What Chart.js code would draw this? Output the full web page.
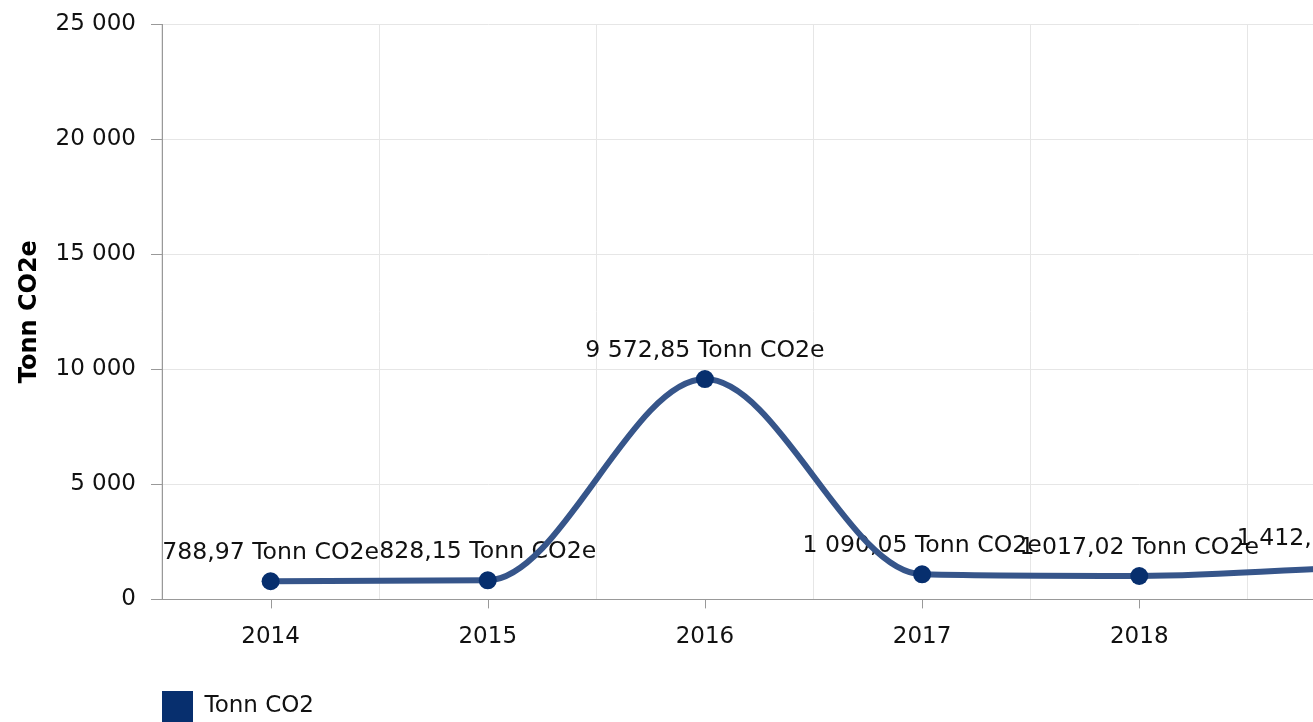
<!DOCTYPE html>
<html>
<head>
<meta charset="utf-8">
<script src="https://cdn.jsdelivr.net/npm/chart.js@4/dist/chart.umd.min.js"></script>
<style>
  html, body { margin: 0; padding: 0; overflow: hidden; background: #fff; }
  #wrap { width: 1474px; height: 732px; }
</style>
</head>
<body>
<div id="wrap"><canvas id="co2Chart"></canvas></div>
<script>
const years = ["2014", "2015", "2016", "2017", "2018", "2019"];
const tonnCO2 = [788.97, 828.15, 9572.85, 1090.05, 1017.02, 1412.0];
const yTicks = [0, 5000, 10000, 15000, 20000, 25000];

const FONT = "'DejaVu Sans', Verdana, sans-serif";
const NAVY = "#072f6e";

function spaced(n) {
  return String(n).replace(/\B(?=(\d{3})+(?!\d))/g, " ");
}

function fmtLabel(v) {
  const parts = v.toFixed(2).split(".");
  return spaced(parts[0]) + "," + parts[1] + " Tonn CO2e";
}

// value labels sit under the line, like in the original
const valueLabels = {
  id: "valueLabels",
  beforeDatasetsDraw(chart) {
    const ctx = chart.ctx;
    const meta = chart.getDatasetMeta(0);
    ctx.save();
    ctx.font = "23.6px " + FONT;
    ctx.fillStyle = "#111";
    ctx.textAlign = "center";
    ctx.textBaseline = "middle";
    meta.data.forEach((pt, i) => {
      ctx.fillText(fmtLabel(tonnCO2[i]), pt.x, pt.y - 28);
    });
    ctx.restore();
  }
};

// tick marks at the category centres, grid lines stay on the boundaries
const centreTicks = {
  id: "centreTicks",
  afterDraw(chart) {
    const x = chart.scales.x;
    const ctx = chart.ctx;
    ctx.save();
    ctx.strokeStyle = "#999";
    ctx.lineWidth = 1;
    years.forEach((_, i) => {
      const px = Math.round(x.getPixelForTick(i)) + 0.5;
      ctx.beginPath();
      ctx.moveTo(px, x.top);
      ctx.lineTo(px, x.top + 9);
      ctx.stroke();
    });
    ctx.restore();
  }
};

new Chart(document.getElementById("co2Chart"), {
  type: "line",
  data: {
    labels: years,
    datasets: [{
      label: "Tonn CO2",
      data: tonnCO2,
      borderColor: "#36558a",
      backgroundColor: NAVY,
      borderWidth: 6,
      cubicInterpolationMode: "monotone",
      pointRadius: 9,
      pointBorderWidth: 0,
      pointBackgroundColor: NAVY,
      fill: false
    }]
  },
  options: {
    responsive: true,
    maintainAspectRatio: false,
    animation: false,
    layout: { padding: { top: 24, right: 8, left: 0, bottom: 0 } },
    plugins: {
      tooltip: { enabled: false },
      legend: {
        position: "bottom",
        align: "start",
        fullSize: false,
        labels: {
          boxWidth: 31,
          boxHeight: 31,
          padding: 0,
          color: "#111",
          font: { family: FONT, size: 23 },
          generateLabels(chart) {
            return Chart.defaults.plugins.legend.labels.generateLabels(chart)
              .map(l => Object.assign(l, { fillStyle: NAVY, strokeStyle: NAVY, lineWidth: 0 }));
          }
        }
      }
    },
    scales: {
      x: {
        offset: true,
        grid: { offset: true, color: "#e6e6e6", drawTicks: false },
        border: { color: "#999" },
        ticks: {
          padding: 24,
          color: "#111",
          font: { family: FONT, size: 23 }
        },
        afterFit(scale) { scale.height += 16; }
      },
      y: {
        min: 0,
        max: 25000,
        afterBuildTicks(scale) {
          scale.ticks = yTicks.map(v => ({ value: v }));
        },
        afterFit(scale) {
          scale.width = 162;
          scale.paddingTop = 0;
        },
        grid: { color: "#e6e6e6", tickColor: "#999", tickLength: 11 },
        border: { color: "#999" },
        ticks: {
          padding: 15,
          color: "#111",
          font: { family: FONT, size: 23 },
          callback: v => spaced(v)
        },
        title: {
          display: true,
          text: "Tonn CO2e",
          color: "#000",
          font: { family: FONT, size: 24, weight: "bold" },
          padding: { top: 15, bottom: 14 }
        }
      }
    }
  },
  plugins: [valueLabels, centreTicks]
});
</script>
</body>
</html>
